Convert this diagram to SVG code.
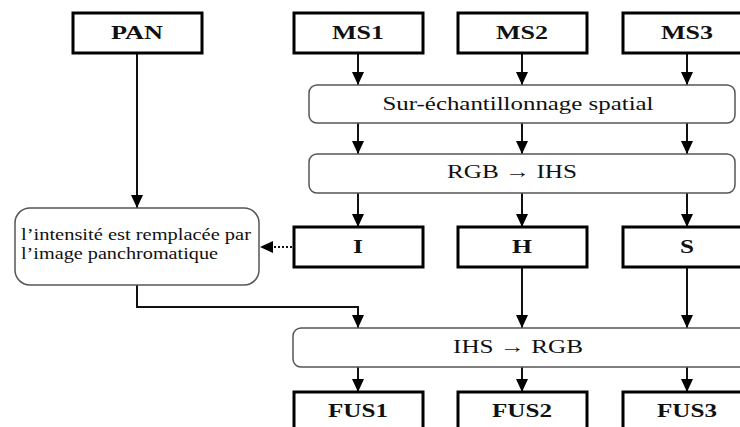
<svg xmlns="http://www.w3.org/2000/svg" width="740" height="427" viewBox="0 0 740 427">
<style>
.box{fill:#fff;stroke:#000;stroke-width:3}
.rbox{fill:#fff;stroke:#555;stroke-width:1.5}
.lbl{font-family:"Liberation Serif",serif;font-weight:bold;font-size:19px;fill:#111;text-anchor:middle}
.txt{font-family:"Liberation Serif",serif;font-size:19px;fill:#111;text-anchor:middle}
.ltxt{font-family:"Liberation Serif",serif;font-size:16px;fill:#111}
.con{fill:none;stroke:#111;stroke-width:2}
.dot{fill:none;stroke:#111;stroke-width:2;stroke-dasharray:2 2}
</style>
<defs>
<marker id="ah" markerUnits="userSpaceOnUse" markerWidth="14" markerHeight="12" refX="13" refY="6" orient="auto">
<path d="M0,0 L13,6 L0,12 Z" fill="#000"/>
</marker>
</defs>
<rect width="740" height="427" fill="#fff"/>
<g id="connectors">
<path class="con" d="M137,53 V208" marker-end="url(#ah)"/>
<path class="con" d="M358,53 V85" marker-end="url(#ah)"/>
<path class="con" d="M522,53 V85" marker-end="url(#ah)"/>
<path class="con" d="M687,53 V85" marker-end="url(#ah)"/>
<path class="con" d="M358,123 V154" marker-end="url(#ah)"/>
<path class="con" d="M522,123 V154" marker-end="url(#ah)"/>
<path class="con" d="M687,123 V154" marker-end="url(#ah)"/>
<path class="con" d="M358,193 V227" marker-end="url(#ah)"/>
<path class="con" d="M522,193 V227" marker-end="url(#ah)"/>
<path class="con" d="M687,193 V227" marker-end="url(#ah)"/>
<path class="dot" d="M292,247 H260" marker-end="url(#ah)"/>
<path class="con" d="M137,285 V307 H358 V328" marker-end="url(#ah)"/>
<path class="con" d="M522,267 V328" marker-end="url(#ah)"/>
<path class="con" d="M687,267 V328" marker-end="url(#ah)"/>
<path class="con" d="M358,367 V392" marker-end="url(#ah)"/>
<path class="con" d="M522,367 V392" marker-end="url(#ah)"/>
<path class="con" d="M687,367 V392" marker-end="url(#ah)"/>
</g>
<g id="pan"><rect class="box" x="73" y="13" width="129" height="40"/><text class="lbl" x="137" y="39" textLength="52" lengthAdjust="spacingAndGlyphs">PAN</text></g>
<g id="ms1"><rect class="box" x="294" y="13" width="129" height="40"/><text class="lbl" x="358" y="39" textLength="52" lengthAdjust="spacingAndGlyphs">MS1</text></g>
<g id="ms2"><rect class="box" x="458" y="13" width="129" height="40"/><text class="lbl" x="522" y="39" textLength="52" lengthAdjust="spacingAndGlyphs">MS2</text></g>
<g id="ms3"><rect class="box" x="623" y="13" width="129" height="40"/><text class="lbl" x="687" y="39" textLength="52" lengthAdjust="spacingAndGlyphs">MS3</text></g>
<g id="upsample"><rect class="rbox" x="309" y="85" width="426" height="38" rx="8"/><text class="txt" x="518" y="110" textLength="271" lengthAdjust="spacingAndGlyphs">Sur-échantillonnage spatial</text></g>
<g id="rgb2ihs"><rect class="rbox" x="309" y="154" width="426" height="39" rx="8"/><text class="txt" x="512" y="178" textLength="130" lengthAdjust="spacingAndGlyphs">RGB → IHS</text></g>
<g id="replace"><rect class="rbox" x="15" y="208" width="244" height="77" rx="15"/><text class="ltxt" x="21" y="240" textLength="230" lengthAdjust="spacingAndGlyphs">l’intensité est remplacée par</text><text class="ltxt" x="21" y="259" textLength="197" lengthAdjust="spacingAndGlyphs">l’image panchromatique</text></g>
<g id="i"><rect class="box" x="294" y="227" width="129" height="40"/><text class="lbl" x="358" y="253" textLength="10" lengthAdjust="spacingAndGlyphs">I</text></g>
<g id="h"><rect class="box" x="458" y="227" width="129" height="40"/><text class="lbl" x="522" y="253" textLength="20" lengthAdjust="spacingAndGlyphs">H</text></g>
<g id="s"><rect class="box" x="623" y="227" width="129" height="40"/><text class="lbl" x="687" y="253" textLength="14" lengthAdjust="spacingAndGlyphs">S</text></g>
<g id="ihs2rgb"><rect class="rbox" x="293" y="328" width="460" height="39" rx="8"/><text class="txt" x="518" y="353" textLength="130" lengthAdjust="spacingAndGlyphs">IHS → RGB</text></g>
<g id="fus1"><rect class="box" x="294" y="392" width="129" height="50"/><text class="lbl" x="358" y="417" textLength="60" lengthAdjust="spacingAndGlyphs">FUS1</text></g>
<g id="fus2"><rect class="box" x="458" y="392" width="129" height="50"/><text class="lbl" x="522" y="417" textLength="60" lengthAdjust="spacingAndGlyphs">FUS2</text></g>
<g id="fus3"><rect class="box" x="623" y="392" width="129" height="50"/><text class="lbl" x="687" y="417" textLength="60" lengthAdjust="spacingAndGlyphs">FUS3</text></g>
</svg>
